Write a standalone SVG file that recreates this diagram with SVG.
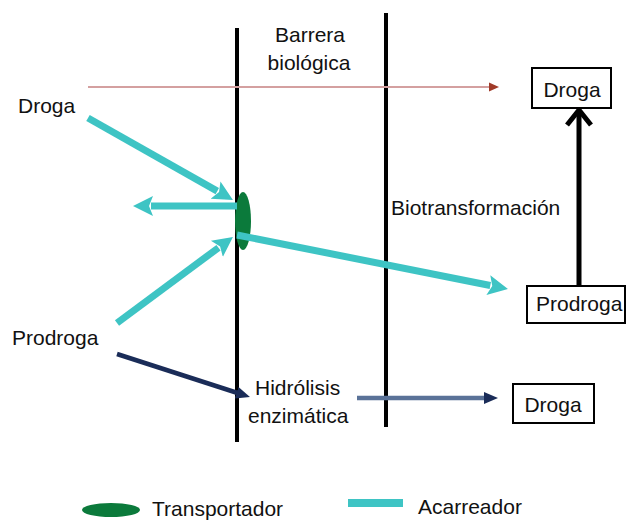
<svg xmlns="http://www.w3.org/2000/svg" width="626" height="522" viewBox="0 0 626 522">
<style>
text{font-family:"Liberation Sans",Arial,sans-serif;font-size:21px;fill:#111}
.box{fill:#fff;stroke:#000;stroke-width:2}
.teal{stroke:#3ec4c4;stroke-width:7;fill:none}
.barrier{stroke:#000;stroke-width:4}
</style>
<defs>
<marker id="th" markerUnits="userSpaceOnUse" viewBox="0 -12 24 24" markerWidth="24" markerHeight="24" refX="2" refY="0" orient="auto">
<path d="M0,-10 L20,0 L0,10 L4,0 Z" fill="#3ec4c4"/>
</marker>
<marker id="nh" markerUnits="userSpaceOnUse" viewBox="0 -8 16 16" markerWidth="16" markerHeight="16" refX="1" refY="0" orient="auto">
<path d="M0,-6 L14,0 L0,6 Z" fill="#1a2c58"/>
</marker>
<marker id="bh" markerUnits="userSpaceOnUse" viewBox="0 -6 12 12" markerWidth="12" markerHeight="12" refX="1" refY="0" orient="auto">
<path d="M0,-4.5 L10,0 L0,4.5 Z" fill="#a03a28"/>
</marker>
</defs>
<rect width="626" height="522" fill="#fff"/>

<g id="barrera">
<line class="barrier" x1="237" y1="28" x2="237" y2="442"/>
<line class="barrier" x1="386" y1="13" x2="386" y2="427"/>
<text x="310" y="42" text-anchor="middle">Barrera</text>
<text x="309" y="70" text-anchor="middle">biológica</text>
</g>

<g id="transportador">
<ellipse cx="243" cy="221" rx="8" ry="29" fill="#0b7a3b"/>
</g>

<g id="connectors">
<line x1="88" y1="87" x2="490" y2="87" stroke="#d4a0a0" stroke-width="2" marker-end="url(#bh)"/>
<line class="teal" x1="88" y1="118" x2="217.3" y2="191.1" marker-end="url(#th)"/>
<line class="teal" x1="237" y1="206" x2="151" y2="206" marker-end="url(#th)"/>
<line class="teal" x1="117" y1="323" x2="218.5" y2="247.7" marker-end="url(#th)"/>
<line class="teal" x1="237" y1="235" x2="490.3" y2="285.5" marker-end="url(#th)"/>
<line x1="117" y1="354" x2="237.6" y2="393" stroke="#1a2c58" stroke-width="4.5" marker-end="url(#nh)"/>
<line x1="357" y1="398" x2="485" y2="398" stroke="#5a7298" stroke-width="4.5" marker-end="url(#nh)"/>
<line x1="579" y1="287" x2="579" y2="112" stroke="#000" stroke-width="5"/>
<polyline points="567,125 579,110 591,125" fill="none" stroke="#000" stroke-width="5"/>
</g>

<g id="droga-origen">
<text x="18" y="113">Droga</text>
</g>
<g id="prodroga-origen">
<text x="12" y="345">Prodroga</text>
</g>
<g id="biotransformacion">
<text x="391" y="215">Biotransformación</text>
</g>
<g id="hidrolisis">
<text x="255" y="395">Hidrólisis</text>
<text x="248" y="423">enzimática</text>
</g>
<g id="droga-arriba">
<rect class="box" x="532" y="68" width="79" height="40"/>
<text x="572" y="97" text-anchor="middle">Droga</text>
</g>
<g id="prodroga-caja">
<rect class="box" x="527" y="286" width="98" height="37"/>
<text x="536" y="311">Prodroga</text>
</g>
<g id="droga-abajo">
<rect class="box" x="513" y="384" width="81" height="39"/>
<text x="553" y="412" text-anchor="middle">Droga</text>
</g>

<g id="leyenda">
<ellipse cx="111" cy="510" rx="29" ry="7" fill="#0b7a3b"/>
<text x="152" y="516">Transportador</text>
<rect x="348" y="499" width="55" height="8" fill="#3ec4c4"/>
<text x="418" y="514">Acarreador</text>
</g>
</svg>
